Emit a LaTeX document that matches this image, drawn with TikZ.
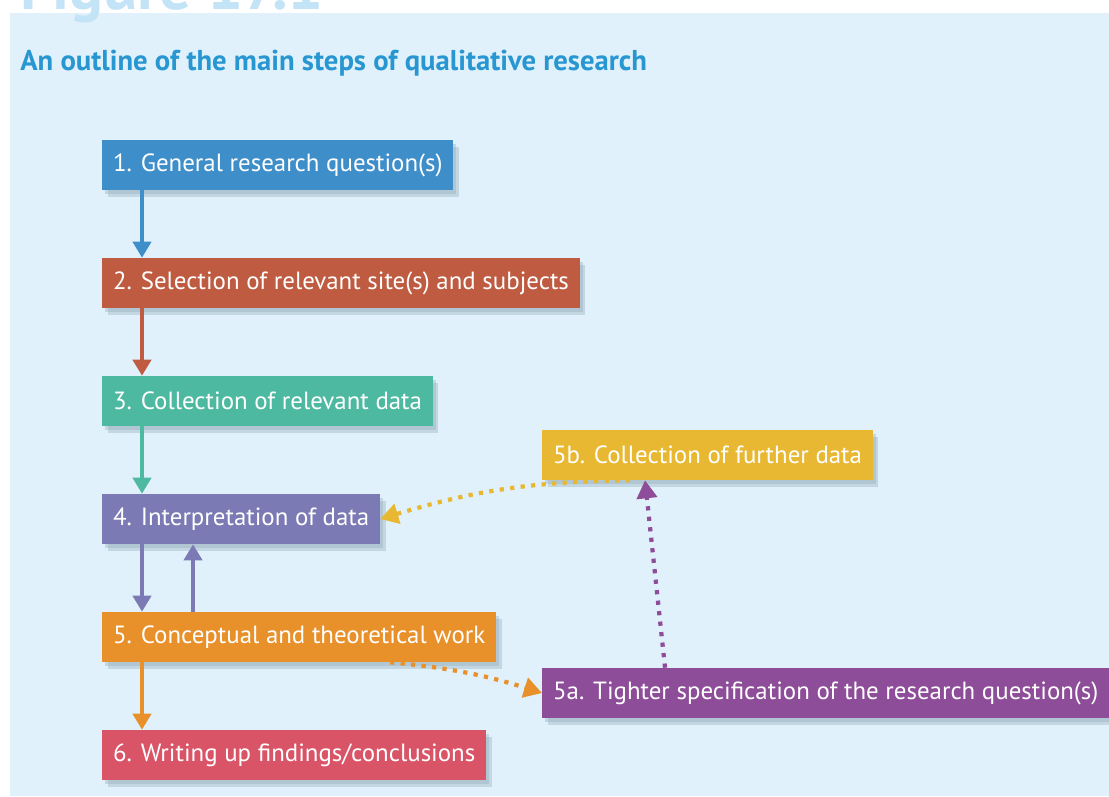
\documentclass[tikz,border=0pt]{standalone}
\usepackage{fontspec}
\setmainfont{PT Sans}
\usetikzlibrary{positioning, arrows.meta, shadows}

\definecolor{panel}{HTML}{E0F1FB}
\definecolor{figblue}{HTML}{C3E3F6}
\definecolor{headblue}{HTML}{2796D1}
\definecolor{stepA}{HTML}{3E8ECA}
\definecolor{stepB}{HTML}{BE5B41}
\definecolor{stepC}{HTML}{4DB9A0}
\definecolor{stepD}{HTML}{7C7AB5}
\definecolor{stepE}{HTML}{E8902A}
\definecolor{stepF}{HTML}{DA5468}
\definecolor{stepG}{HTML}{E8B832}
\definecolor{stepH}{HTML}{8D4D98}
\definecolor{shade}{HTML}{8FA8B8}

\begin{document}
\begin{tikzpicture}[x=0.025cm,y=-0.025cm,
  box/.style={rectangle,anchor=west,minimum height=1.25cm,inner xsep=0.27cm,
              text=white,font=\fontsize{17.7}{20}\selectfont,
              drop shadow={shadow xshift=4pt,shadow yshift=-5pt,
                           fill=shade,opacity=0.35},
              drop shadow={shadow xshift=2pt,shadow yshift=-3pt,
                           fill=shade,opacity=0.35}},
  flow/.style={draw=#1,line width=2.8pt,
               -{Triangle[width=0.45cm,length=0.4cm]}},
  loop/.style={draw=#1,line width=3pt,dash pattern=on 3pt off 4.5pt,
               -{Triangle[width=0.5cm,length=0.45cm]}}]
  \useasboundingbox (0,0) rectangle (1109,796);
  \clip (0,0) rectangle (1109,796);
  \fill[panel] (10,13) rectangle (1109,796);
  \node[anchor=base west,inner sep=0,text=figblue,
        font=\bfseries\fontsize{45}{50}\selectfont] (fig) at (20,9) {Figure 17.1};
  \node[anchor=base west,inner sep=0,text=headblue,
        font=\bfseries\fontsize{20.4}{24}\selectfont] (title) at (20,70)
        {An outline of the main steps of qualitative research};

  % main sequence
  \node[box,fill=stepA] (s1) at (102,165) {1. General research question(s)};
  \node[box,fill=stepB] (s2) at (102,283) {2. Selection of relevant site(s) and subjects};
  \node[box,fill=stepC] (s3) at (102,401) {3. Collection of relevant data};
  \node[box,fill=stepD] (s4) at (102,519) {4. Interpretation of data};
  \node[box,fill=stepE] (s5) at (102,637) {5. Conceptual and theoretical work};
  \node[box,fill=stepF] (s6) at (102,755) {6. Writing up findings/conclusions};
  % side loop
  \node[box,fill=stepG] (s5b) at (542,455) {5b. Collection of further data};
  \node[box,fill=stepH] (s5a) at (542,693) {5a. Tighter specification of the research question(s)};

  \draw[flow=stepA] ([xshift=1cm]s1.south west) -- ([xshift=1cm]s2.north west);
  \draw[flow=stepB] ([xshift=1cm]s2.south west) -- ([xshift=1cm]s3.north west);
  \draw[flow=stepC] ([xshift=1cm]s3.south west) -- ([xshift=1cm]s4.north west);
  \draw[flow=stepD] ([xshift=1cm]s4.south west) -- ([xshift=1cm]s5.north west);
  \draw[flow=stepD] ([xshift=2.275cm]s5.north west) -- ([xshift=2.275cm]s4.south west);
  \draw[flow=stepE] ([xshift=1cm]s5.south west) -- ([xshift=1cm]s6.north west);

  \draw[loop=stepE] ([xshift=7.2cm]s5.south west) to[bend left=6] (s5a.west);
  \draw[loop=stepH] ([xshift=3.075cm]s5a.north west) -- ([xshift=2.575cm]s5b.south west);
  \draw[loop=stepG] ([xshift=2.2cm]s5b.south west) to[bend right=8] (s4.east);
\end{tikzpicture}
\end{document}
